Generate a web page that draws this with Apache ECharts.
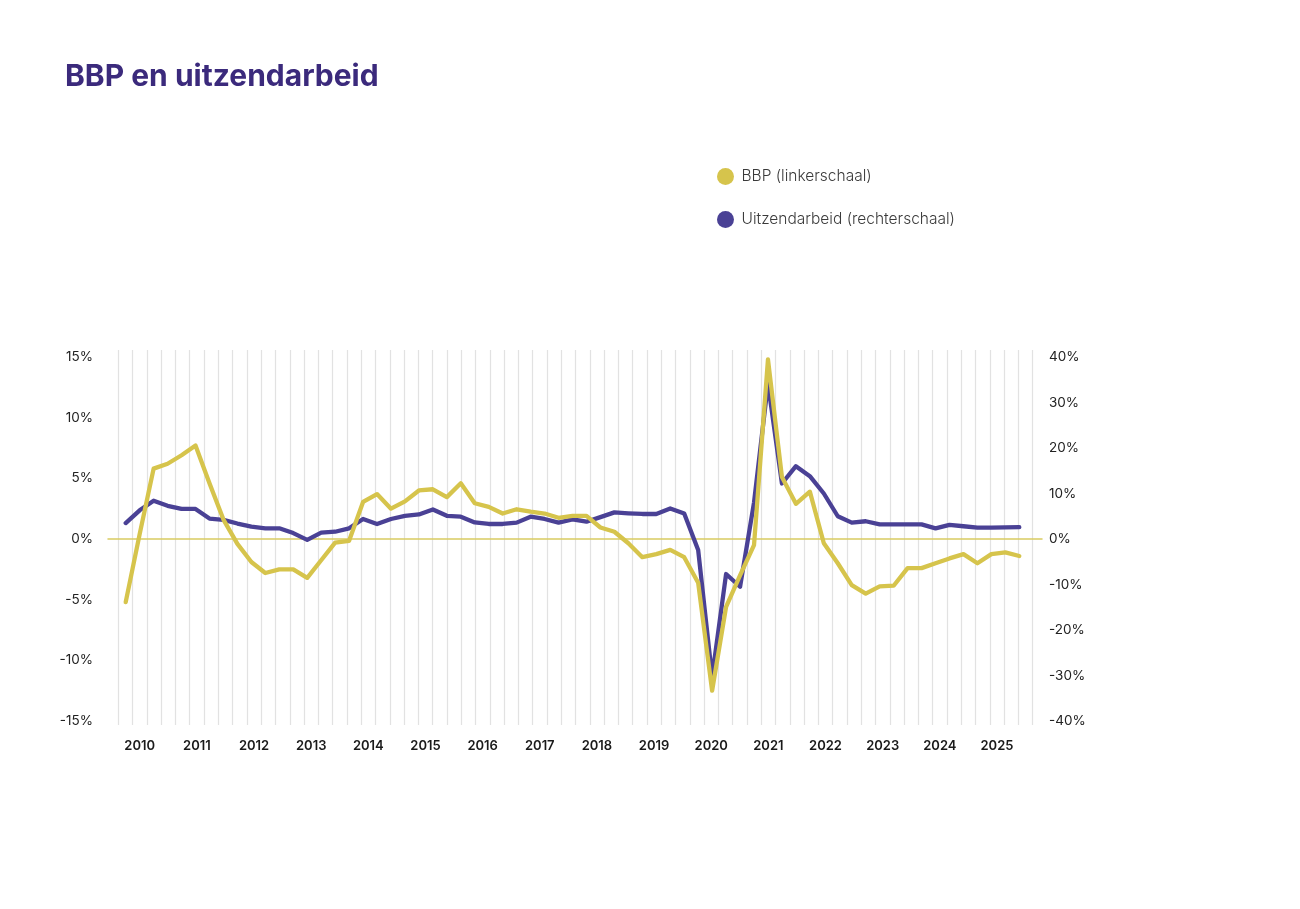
<!DOCTYPE html>
<html>
<head>
<meta charset="utf-8">
<script src="https://cdn.jsdelivr.net/npm/echarts@6/dist/echarts.min.js"></script>
<style>
  html, body { margin: 0; padding: 0; background: #fff; }
  #chart { width: 1300px; height: 909px; }
</style>
</head>
<body>
<div id="chart"></div>
<script>
// jaartallen onder de as
const years = ['2010', '2011', '2012', '2013', '2014', '2015', '2016', '2017',
    '2018', '2019', '2020', '2021', '2022', '2023', '2024', '2025'];
const quarterNames = ['K1', 'K2', 'K3', 'K4'];

// kwartaalvakken voor de verticale rasterlijnen
const bandQuarters = [];
years.forEach(y => quarterNames.forEach(q => bandQuarters.push(y + ' ' + q)));
// kwartalen van de reeksen (2009 K4 t/m 2025 K4)
const dataQuarters = ['2009 K4'].concat(bandQuarters);

// BBP, % (linkerschaal)
const bbp = [
    -5.2, 0.4, 5.8, 6.2, 6.9, 7.7, 4.6, 1.6, -0.4, -1.9,
    -2.8, -2.5, -2.5, -3.2, -1.75, -0.3, -0.15, 3.05, 3.7, 2.5,
    3.1, 4.0, 4.1, 3.45, 4.6, 2.95, 2.65, 2.1, 2.45, 2.25,
    2.1, 1.75, 1.9, 1.9, 0.95, 0.6, -0.35, -1.5, -1.25, -0.9,
    -1.5, -3.6, -12.5, -5.6, -3.0, -0.5, 14.8, 5.1, 2.9, 3.9,
    -0.35, -2.0, -3.8, -4.5, -3.9, -3.85, -2.4, -2.4, -2.0, -1.6,
    -1.25, -2.0, -1.25, -1.1, -1.4
];

// Uitzendarbeid, % (rechterschaal)
const uitzendarbeid = [
    3.5, 6.3, 8.4, 7.3, 6.6, 6.6, 4.5, 4.2, 3.4, 2.7,
    2.35, 2.35, 1.3, -0.2, 1.4, 1.6, 2.35, 4.4, 3.3, 4.4,
    5.1, 5.4, 6.5, 5.1, 4.9, 3.65, 3.3, 3.3, 3.6, 4.9,
    4.4, 3.6, 4.3, 3.8, 4.8, 5.85, 5.65, 5.5, 5.5, 6.7,
    5.6, -2.4, -30.3, -7.7, -10.5, 8.0, 34.2, 12.2, 16.0, 13.8,
    10.0, 5.0, 3.6, 3.9, 3.2, 3.2, 3.2, 3.2, 2.35, 3.1,
    2.8, 2.5, 2.5, 2.55, 2.6
];

const YELLOW = '#d6c44c';
const PURPLE = '#4a4195';
const FONT = 'Inter, "Noto Sans", sans-serif';

const chart = echarts.init(document.getElementById('chart'));

const option = {
    backgroundColor: '#ffffff',
    animation: false,
    textStyle: { fontFamily: FONT },
    title: {
        text: 'BBP en uitzendarbeid',
        left: 65,
        top: 62,
        padding: 0,
        textStyle: { color: '#3b2a7c', fontSize: 30, fontWeight: 'bold', fontFamily: FONT }
    },
    legend: {
        orient: 'vertical',
        left: 712,
        top: 163,
        itemWidth: 22,
        itemHeight: 17,
        itemGap: 26,
        icon: 'circle',
        data: ['BBP (linkerschaal)', 'Uitzendarbeid (rechterschaal)'],
        textStyle: { color: '#3a3a3a', fontSize: 15.5, fontWeight: 300, fontFamily: FONT }
    },
    grid: [
        // 0: rasterlijnen + jaartallen
        { left: 118.3, right: 1300 - 1032.7, top: 350, bottom: 909 - 725 },
        // 1: waardelabels + nullijn
        { left: 108, right: 1300 - 1042, top: 357, bottom: 909 - 721 },
        // 2: de reeksen
        { left: 125.7, right: 1300 - 1019.3, top: 357, bottom: 909 - 721 }
    ],
    xAxis: [
        {
            gridIndex: 0,
            type: 'category',
            data: bandQuarters,
            boundaryGap: true,
            axisLine: { show: false },
            axisTick: { show: false },
            splitLine: { show: true, interval: 0, lineStyle: { color: '#e2e2e2', width: 1.2 } },
            axisLabel: {
                interval: (i) => i % 4 === 1,
                formatter: (v) => v.slice(0, 4),
                margin: 15,
                color: '#1a1a1a',
                fontSize: 13,
                fontWeight: 600,
                fontFamily: FONT
            }
        },
        {
            gridIndex: 1,
            type: 'category',
            data: bandQuarters,
            axisLine: { show: true, onZero: true, lineStyle: { color: '#d9cb62', width: 1.5 } },
            axisTick: { show: false },
            axisLabel: { show: false },
            splitLine: { show: false }
        },
        {
            gridIndex: 2,
            type: 'category',
            data: dataQuarters,
            boundaryGap: false,
            show: false
        }
    ],
    yAxis: [
        { gridIndex: 0, type: 'value', min: 0, max: 1, show: false },
        {
            gridIndex: 1,
            type: 'value',
            position: 'left',
            min: -15, max: 15, interval: 5,
            axisLine: { show: false },
            axisTick: { show: false },
            splitLine: { show: false },
            axisLabel: { formatter: '{value}%', color: '#222', fontSize: 13.5, margin: 15, fontFamily: FONT }
        },
        {
            gridIndex: 1,
            type: 'value',
            position: 'right',
            min: -40, max: 40, interval: 10,
            axisLine: { show: false },
            axisTick: { show: false },
            splitLine: { show: false },
            axisLabel: { formatter: '{value}%', color: '#222', fontSize: 13.5, margin: 7, fontFamily: FONT }
        },
        { gridIndex: 2, type: 'value', min: -15, max: 15, show: false },
        { gridIndex: 2, type: 'value', min: -40, max: 40, show: false }
    ],
    series: [
        {
            name: 'Uitzendarbeid (rechterschaal)',
            type: 'line',
            xAxisIndex: 2,
            yAxisIndex: 4,
            data: uitzendarbeid,
            symbol: 'none',
            color: PURPLE,
            z: 3,
            lineStyle: { width: 4.3, color: PURPLE, cap: 'round', join: 'round' }
        },
        {
            name: 'BBP (linkerschaal)',
            type: 'line',
            xAxisIndex: 2,
            yAxisIndex: 3,
            data: bbp,
            symbol: 'none',
            color: YELLOW,
            z: 4,
            lineStyle: { width: 4.3, color: YELLOW, cap: 'round', join: 'round' }
        }
    ]
};

chart.setOption(option);
</script>
</body>
</html>
